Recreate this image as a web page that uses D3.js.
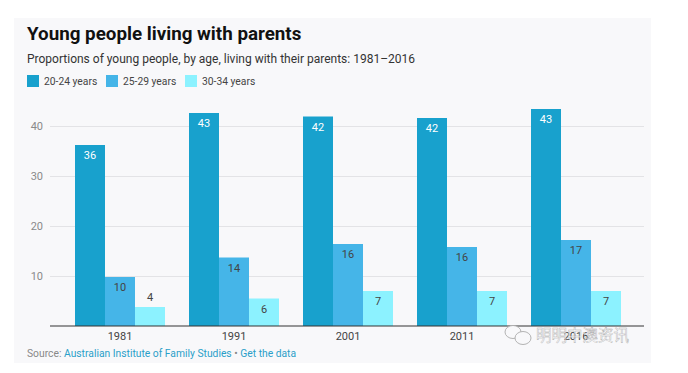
<!DOCTYPE html>
<html>
<head>
<meta charset="utf-8">
<script src="https://cdn.jsdelivr.net/npm/d3@7"></script>
<style>
  html, body { margin: 0; padding: 0; background: #fff; overflow: hidden; }
  text { font-family: Roboto, sans-serif; }
</style>
</head>
<body>
<div id="chart"></div>
<script>
/* Young people living with parents, grouped bars */

const years = ["1981", "1991", "2001", "2011", "2016"];
const seriesNames = ["20-24 years", "25-29 years", "30-34 years"];
const age2024 = [36.2, 42.6, 41.9, 41.6, 43.4];
const age2529 = [9.8, 13.7, 16.4, 15.8, 17.2];
const age3034 = [3.8, 5.5, 7.0, 7.0, 7.0];
const yTicks = [10, 20, 30, 40];
const colors = ["#18a1cd", "#45b5e8", "#8cf2ff"];

const seriesValues = [age2024, age2529, age3034];

const width = 688,
      height = 373;

let svg = d3.select("#chart")
    .append("svg")
    .attr("width", width)
    .attr("height", height)
    .attr("viewBox", [0, 0, width, height]);

// grey panel behind everything
svg.append("rect")
    .attr("x", 14)
    .attr("y", 18)
    .attr("width", 637)
    .attr("height", 345)
    .attr("fill", "#f8f8fa");

svg.append("text")
    .text("Young people living with parents")
    .attr("x", 27)
    .attr("y", 39.5)
    .attr("font-size", 18.8)
    .attr("font-weight", 700)
    .attr("fill", "#111");

svg.append("text")
    .text("Proportions of young people, by age, living with their parents: 1981–2016")
    .attr("x", 27)
    .attr("y", 63)
    .attr("font-size", 12)
    .attr("fill", "#333");

// legend
let legend = svg.selectAll(".legend")
    .data(seriesNames)
    .join("g")
    .attr("class", "legend")
    .attr("transform", (d, i) => `translate(${27 + i * 79},75)`);

legend.append("rect")
    .attr("width", 12)
    .attr("height", 12)
    .attr("fill", (d, i) => colors[i]);

legend.append("text")
    .text(d => d)
    .attr("x", 17)
    .attr("y", 10)
    .attr("font-size", 10.3)
    .attr("fill", "#444");

let x = d3.scaleBand()
    .domain(years)
    .range([63, 633])
    .paddingInner(24 / 114)
    .paddingOuter(12 / 114);

let xInner = d3.scaleBand()
    .domain(seriesNames)
    .range([0, x.bandwidth()]);

let y = d3.scaleLinear()
    .domain([0, 40])
    .range([326, 126]);

// y axis: gridlines and labels
let yAxis = svg.append("g")
    .attr("transform", "translate(50,0)")
    .call(d3.axisLeft(y).tickValues(yTicks).tickSize(-594).tickPadding(7));

yAxis.select(".domain").remove();
yAxis.selectAll("line").attr("stroke", "#e3e3e6");
yAxis.selectAll("text")
    .attr("font-size", 11)
    .attr("fill", "#8a8a8a");

// bars
let group = svg.selectAll(".year")
    .data(years)
    .join("g")
    .attr("class", "year")
    .attr("transform", d => `translate(${x(d)},0)`);

seriesNames.forEach((name, s) => {
    group.append("rect")
        .attr("x", xInner(name))
        .attr("y", (d, i) => y(seriesValues[s][i]))
        .attr("width", xInner.bandwidth())
        .attr("height", (d, i) => y(0) - y(seriesValues[s][i]))
        .attr("fill", colors[s]);

    group.append("text")
        .text((d, i) => Math.round(seriesValues[s][i]))
        .attr("x", xInner(name) + xInner.bandwidth() / 2)
        .attr("y", (d, i) => {
            let v = seriesValues[s][i];
            return v < 5 ? y(v) - 6 : y(v) + 14; // small bar gets its label on top
        })
        .attr("text-anchor", "middle")
        .attr("font-size", 11)
        .attr("fill", s === 0 ? "#fff" : "#444");
});

// x axis
let xAxis = svg.append("g")
    .attr("transform", "translate(0,326)")
    .call(d3.axisBottom(x).tickSize(0).tickPadding(6));

xAxis.select(".domain")
    .attr("d", "M50,0H644")
    .attr("stroke", "#333")
    .attr("stroke-width", 1);
xAxis.selectAll("text")
    .attr("font-size", 11)
    .attr("fill", "#444");

// source line
let source = svg.append("text")
    .attr("x", 27)
    .attr("y", 356.5)
    .attr("font-size", 10.3)
    .attr("fill", "#888");

source.append("tspan").text("Source: ");
source.append("tspan").text("Australian Institute of Family Studies").attr("fill", "#2a9fc9");
source.append("tspan").text(" • ");
source.append("tspan").text("Get the data").attr("fill", "#2a9fc9");

// watermark over the corner
let mark = svg.append("g")
    .attr("fill", "none")
    .attr("stroke", "#aaa")
    .attr("stroke-width", 0.9);

mark.append("ellipse").attr("cx", 513).attr("cy", 332).attr("rx", 8).attr("ry", 6.5).attr("fill", "#f8f8fa");
mark.append("ellipse").attr("cx", 523).attr("cy", 338).attr("rx", 8).attr("ry", 6.5).attr("fill", "#f8f8fa");

svg.append("text")
    .text("明明中澳资讯")
    .attr("x", 536)
    .attr("y", 341)
    .attr("font-size", 15.5)
    .style("font-family", "'Noto Sans CJK SC'")
    .attr("fill", "rgba(255,255,255,0.6)")
    .attr("stroke", "#aaa")
    .attr("stroke-width", 0.4);
</script>
</body>
</html>
